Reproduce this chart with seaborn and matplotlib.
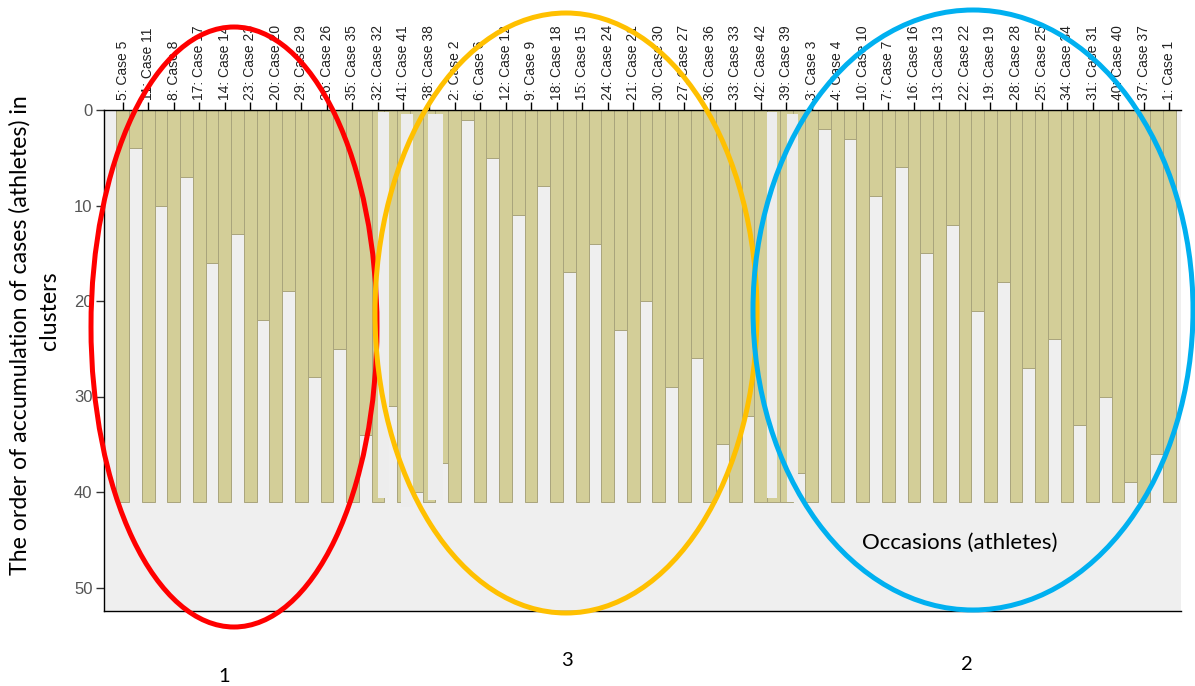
import matplotlib
matplotlib.use("Agg")
import matplotlib.pyplot as plt
from matplotlib.patches import Ellipse, Rectangle
import pandas as pd
import seaborn as sns

# Case order along the icicle (left to right)
case_ids = [5, 11, 8, 17, 14, 23, 20, 29, 26, 35, 32, 41, 38, 2, 6, 12, 9, 18,
            15, 24, 21, 30, 27, 36, 33, 42, 39, 3, 4, 10, 7, 16, 13, 22, 19, 28,
            25, 34, 31, 40, 37, 1]
# Level at which each pair of neighbouring cases is still joined
join_levels = [4, 10, 7, 16, 13, 22, 19, 28, 25, 34, 31, 40, 37, 1, 5, 11, 8,
               17, 14, 23, 20, 29, 26, 35, 32, 41, 38, 2, 3, 9, 6, 15, 12, 21,
               18, 27, 24, 33, 30, 39, 36]
n_levels = 41
y_ticks = [0, 10, 20, 30, 40, 50]
boundary_cases = [32, 41, 38, 42, 39]
cluster_names = ["1", "3", "2"]
x_caption = "Occasions (athletes)"
y_caption = ["The order of accumulation of cases (athletes) in", "clusters"]

# ---- long table: one slot per case column, one per joint between cases ----
rows = []
for i, c in enumerate(case_ids):
    rows.append({"slot": 2 * i, "level": n_levels, "kind": "case"})
    if i < len(join_levels):
        rows.append({"slot": 2 * i + 1, "level": join_levels[i], "kind": "joint"})
df = pd.DataFrame(rows)

sns.set_style("ticks")
plt.rcParams["font.family"] = ["Liberation Sans", "DejaVu Sans"]

W, H = 1195, 686
fig = plt.figure(figsize=(W / 100, H / 100), dpi=100)
ax_left, ax_right, ax_top, ax_bottom = 103.6, 1181, 110, 611
ax = fig.add_axes([ax_left / W, 1 - ax_bottom / H,
                   (ax_right - ax_left) / W, (ax_bottom - ax_top) / H])

bg = "#efefef"
olive = "#d3ce98"
ax.set_facecolor(bg)

sns.barplot(data=df, x="slot", y="level", order=list(range(len(df))),
            width=1.0, color=olive, saturation=1, edgecolor="#a9a47c",
            linewidth=0.7, errorbar=None, ax=ax)

# cluster boundary strips
strip_style = {32: (0.40, 0.86, 0.2, 40.6), 41: (0.27, 1.0, 0.4, 41.6),
               38: (0.49, 1.18, 0.4, 40.8), 42: (0.88, 0.80, 0.2, 40.6),
               39: (0.45, 0.86, 0.4, 41.0)}
for c in boundary_cases:
    shift, w, y0, y1 = strip_style[c]
    xc = 2 * case_ids.index(c) + shift
    ax.add_patch(Rectangle((xc - w / 2, y0), w, y1 - y0, facecolor="#ededed",
                           edgecolor="none", zorder=3))

ax.set_xlim(-1.5, 82.93)
ax.set_ylim((ax_bottom - ax_top) / 9.55, 0)

ax.xaxis.tick_top()
ax.set_xticks([2 * i for i in range(len(case_ids))])
ax.set_xticklabels([f"{c}: Case {c}" for c in case_ids], rotation=90,
                   fontsize=10, color="#222222")
ax.set_yticks(y_ticks)
ax.set_yticklabels([str(v) for v in y_ticks], fontsize=12, color="#555555")
ax.tick_params(axis="x", length=6, width=1, color="black", pad=1)
ax.tick_params(axis="y", length=6, width=1, color="#333333", pad=2)
ax.set_xlabel("")
ax.set_ylabel("")
for side in ["top", "left", "bottom"]:
    ax.spines[side].set_visible(True)
    ax.spines[side].set_color("black")
    ax.spines[side].set_linewidth(1.0)
ax.spines["right"].set_visible(False)

# ---- annotation layer in pixel coordinates ----
ov = fig.add_axes([0, 0, 1, 1], zorder=10)
ov.set_xlim(0, W)
ov.set_ylim(H, 0)
ov.axis("off")
ov.patch.set_alpha(0)

ellipses = [((234, 327), 286, 600, "#ff0000"),
            ((566, 313), 382, 600, "#ffc000"),
            ((973, 310), 440, 600, "#00b0f0")]
for (cx, cy), ew, eh, col in ellipses:
    ov.add_patch(Ellipse((cx, cy), ew, eh, fill=False, edgecolor=col,
                         linewidth=3.6))

label_font = ["Lato", "DejaVu Sans"]
ov.text(20, 335, y_caption[0], rotation=90, ha="center", va="center",
        fontsize=16.7, family=label_font, color="black")
ov.text(50, 311, y_caption[1], rotation=90, ha="center", va="center",
        fontsize=16.7, family=label_font, color="black")
ov.text(960, 543, x_caption, ha="center", va="center", fontsize=16,
        family=label_font, color="black")
for name, (tx, ty) in zip(cluster_names, [(224, 676), (567, 661), (967, 665)]):
    ov.text(tx, ty, name, ha="center", va="center", fontsize=14.5,
            family=label_font, color="black")

fig.savefig("out.png", dpi=100)
